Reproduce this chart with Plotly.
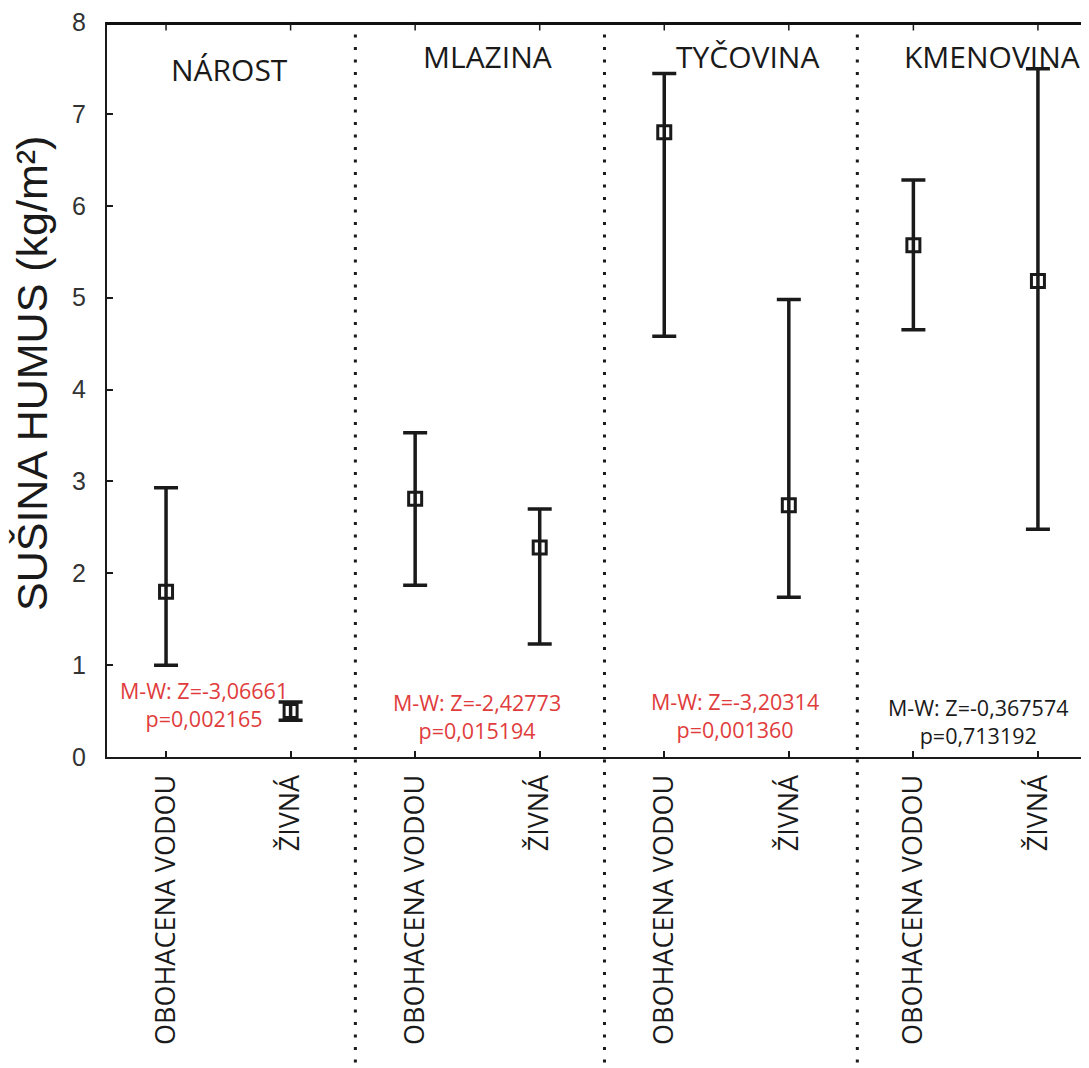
import plotly.graph_objects as go

# ---- data ----
groups = ["NÁROST", "MLAZINA", "TYČOVINA", "KMENOVINA"]
treatments = ["OBOHACENA VODOU", "ŽIVNÁ"]
tick_labels = ["OBOHACENA VODOU", "ŽIVNÁ"] * 4
means = [1.80, 0.50, 2.81, 2.28, 6.80, 2.74, 5.57, 5.18]
lows = [1.00, 0.40, 1.87, 1.23, 4.58, 1.74, 4.65, 2.48]
highs = [2.93, 0.60, 3.53, 2.70, 7.44, 4.98, 6.28, 7.49]
tests = [
    "M-W: Z=-3,06661<br>p=0,002165",
    "M-W: Z=-2,42773<br>p=0,015194",
    "M-W: Z=-3,20314<br>p=0,001360",
    "M-W: Z=-0,367574<br>p=0,713192",
]
test_significant = [True, True, True, False]
y_ticks = [0, 1, 2, 3, 4, 5, 6, 7, 8]

# ---- layout constants (page body has an 8px margin) ----
W, H = 1081, 1060
ML, MT, MB, MR = 99, 14, 311, 0
XMIN, XMAX = -0.474, 7.41
RED = "#e03c3c"
INK = "#1a1a1a"
plot_h = H - MT - MB
plot_w = W - ML - MR

xpos = list(range(len(means)))
err_plus = [h - m for h, m in zip(highs, means)]
err_minus = [m - l for m, l in zip(means, lows)]

fig = go.Figure()
fig.add_trace(go.Scatter(
    x=xpos, y=means, mode="markers",
    marker=dict(symbol="square-open", size=13, color=INK, line=dict(width=3, color=INK)),
    error_y=dict(type="data", symmetric=False, array=err_plus, arrayminus=err_minus,
                 color=INK, thickness=3.5, width=12),
    showlegend=False, hoverinfo="skip",
))

def to_paper_x(x):
    return (x - XMIN) / (XMAX - XMIN)

shapes = []
# dotted group separators
sep_positions = [1.52, 3.52, 5.55]
for sx in sep_positions:
    px = to_paper_x(sx)
    shapes.append(dict(type="line", xref="paper", yref="paper", x0=px, x1=px,
                       y0=1.0, y1=-0.45,
                       line=dict(color=INK, width=3, dash="3px,9.5px"), layer="below"))
# top frame line and its inward ticks
top_y = 1.0 - 1.5 / plot_h
shapes.append(dict(type="line", xref="paper", yref="paper", x0=-0.001, x1=1.0,
                   y0=top_y, y1=top_y,
                   line=dict(color="#111111", width=3), layer="above"))
for xv in xpos:
    shapes.append(dict(type="line", xref="x", yref="paper", x0=xv, x1=xv,
                       y0=top_y, y1=top_y - 7 / plot_h,
                       line=dict(color=INK, width=1.5), layer="above"))

annotations = []
title_pos = [(0.51, 7.48), (2.58, 7.62), (4.67, 7.62), (6.63, 7.62)]
for g, (tx, ty) in zip(groups, title_pos):
    annotations.append(dict(x=tx, y=ty, xref="x", yref="y", text=g, showarrow=False,
                            font=dict(family="Open Sans", size=30, color=INK),
                            xanchor="center", yanchor="middle"))

test_pos = [(0.305, 0.575), (2.5, 0.44), (4.57, 0.455), (6.52, 0.39)]
for t, sig, (tx, ty) in zip(tests, test_significant, test_pos):
    annotations.append(dict(x=tx, y=ty, xref="x", yref="y", text=t, showarrow=False,
                            font=dict(family="Open Sans", size=21.5, color=RED if sig else INK),
                            xanchor="center", yanchor="middle", align="center"))

annotations.append(dict(x=(24 - ML) / plot_w, y=(749 - 366) / plot_h,
                        xref="paper", yref="paper", text="SUŠINA HUMUS (kg/m²)",
                        textangle=-90, showarrow=False,
                        font=dict(family="Liberation Sans", size=43, color=INK),
                        xanchor="center", yanchor="middle"))

fig.update_layout(
    width=W, height=H,
    margin=dict(l=ML, r=MR, t=MT, b=MB, pad=0),
    paper_bgcolor="white", plot_bgcolor="white",
    shapes=shapes, annotations=annotations,
    xaxis=dict(range=[XMIN, XMAX], tickmode="array", tickvals=xpos, ticktext=tick_labels,
               tickangle=-90, showline=True, linecolor=INK, linewidth=2, mirror=False,
               ticks="inside", ticklen=6, tickwidth=1.5, tickcolor=INK,
               showgrid=False, zeroline=False, ticklabelstandoff=5,
               tickfont=dict(family="Open Sans", size=27, color=INK)),
    yaxis=dict(range=[0, 8], tickmode="array", tickvals=y_ticks,
               showline=True, linecolor=INK, linewidth=2, mirror=False,
               ticks="inside", ticklen=6, tickwidth=1.5, tickcolor=INK,
               showgrid=False, zeroline=False, ticklabelstandoff=14,
               ticklabeloverflow="allow",
               tickfont=dict(family="Liberation Sans", size=25, color="#333333")),
)

fig.write_html("out.html", config={"displayModeBar": False})
